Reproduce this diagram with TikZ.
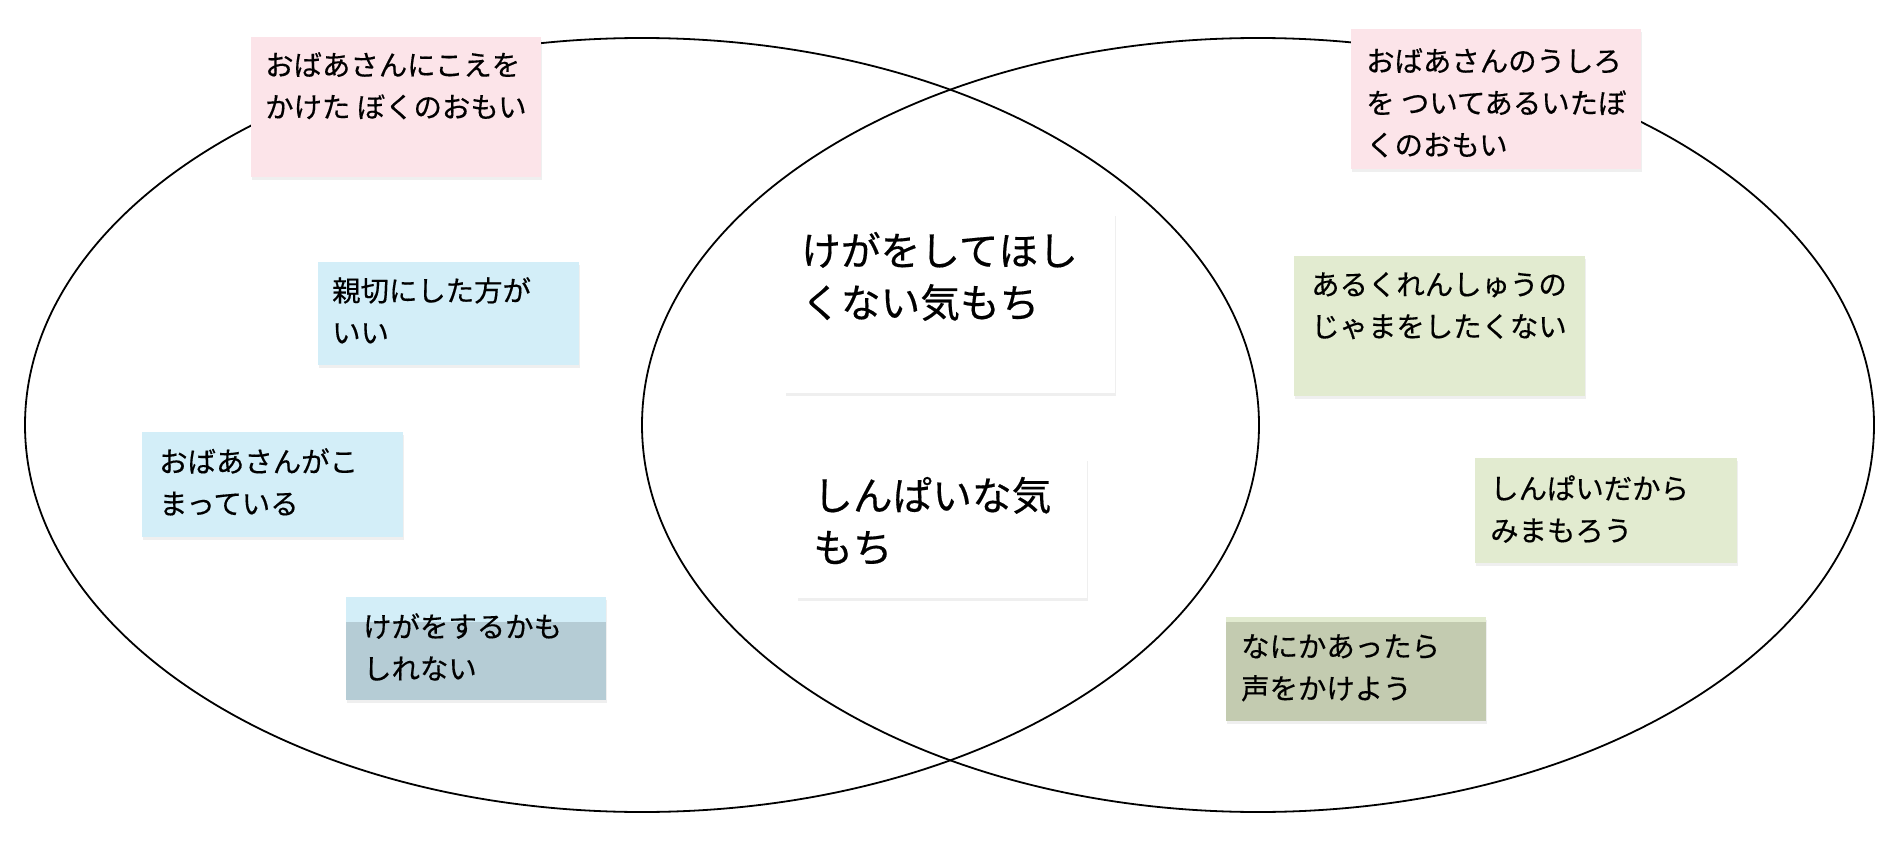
\documentclass[tikz,border=0pt]{standalone}
\usepackage{fontspec}
\setmainfont{Noto Sans CJK JP}[FakeBold=0.4]
\usetikzlibrary{shadows}
\definecolor{notepink}{RGB}{252,228,233}
\definecolor{noteblue}{RGB}{211,238,248}
\definecolor{notegrey}{RGB}{181,204,213}
\definecolor{notegreen}{RGB}{226,235,208}
\definecolor{noteolive}{RGB}{195,203,176}
\begin{document}
\begin{tikzpicture}[x=1pt,y=-1pt,
  note/.style={drop shadow={shadow xshift=1pt,shadow yshift=-3pt,opacity=0.12}},
  small/.style={anchor=north west,inner sep=0pt,align=left,font=\fontsize{28.4}{42}\selectfont},
  big/.style={anchor=north west,inner sep=0pt,align=left,font=\fontsize{39.7}{52}\selectfont}]
\useasboundingbox (0,0) rectangle (1900,850);
\fill [white] (0,0) rectangle (1900,850);
\draw [line width=1.8pt] (642,425) ellipse [x radius=617,y radius=387];
\draw [line width=1.8pt] (1258,425) ellipse [x radius=616,y radius=387];

% left side
\fill [note,notepink] (251,37) rectangle (541,177);
\node [small] (boku) at (265,52) {おばあさんにこえを\\かけた ぼくのおもい};
\fill [note,noteblue] (318,262) rectangle (579,365);
\node [small] (shinsetsu) at (332,277) {親切にした方が\\いい};
\fill [note,noteblue] (142,432) rectangle (403,537);
\node [small] (komatte) at (159,448) {おばあさんがこ\\まっている};
\fill [note,noteblue] (346,597) rectangle (606,700);
\fill [notegrey] (346,622) rectangle (606,700);
\node [small] (kega) at (363,613) {けがをするかも\\しれない};

% middle
\fill [note,white] (785,213) rectangle (1115,393);
\node [big] (hoshiku) at (801,231.7) {けがをしてほし\\くない気もち};
\fill [note,white] (797,458) rectangle (1087,598);
\node [big] (shinpai) at (813,476.7) {しんぱいな気\\もち};

% right side
\fill [note,notepink] (1351,29) rectangle (1641,169);
\node [small] (ushiro) at (1366,48) {おばあさんのうしろ\\を ついてあるいたぼ\\くのおもい};
\fill [note,notegreen] (1294,256) rectangle (1585,396);
\node [small] (jama) at (1311,272) {あるくれんしゅうの\\じゃまをしたくない};
\fill [note,notegreen] (1475,458) rectangle (1737,563);
\node [small] (mimamoro) at (1490,475) {しんぱいだから\\みまもろう};
\fill [note,notegreen] (1226,617) rectangle (1486,721);
\fill [noteolive] (1226,622) rectangle (1486,721);
\node [small] (koe) at (1241,634) {なにかあったら\\声をかけよう};
\end{tikzpicture}
\end{document}
